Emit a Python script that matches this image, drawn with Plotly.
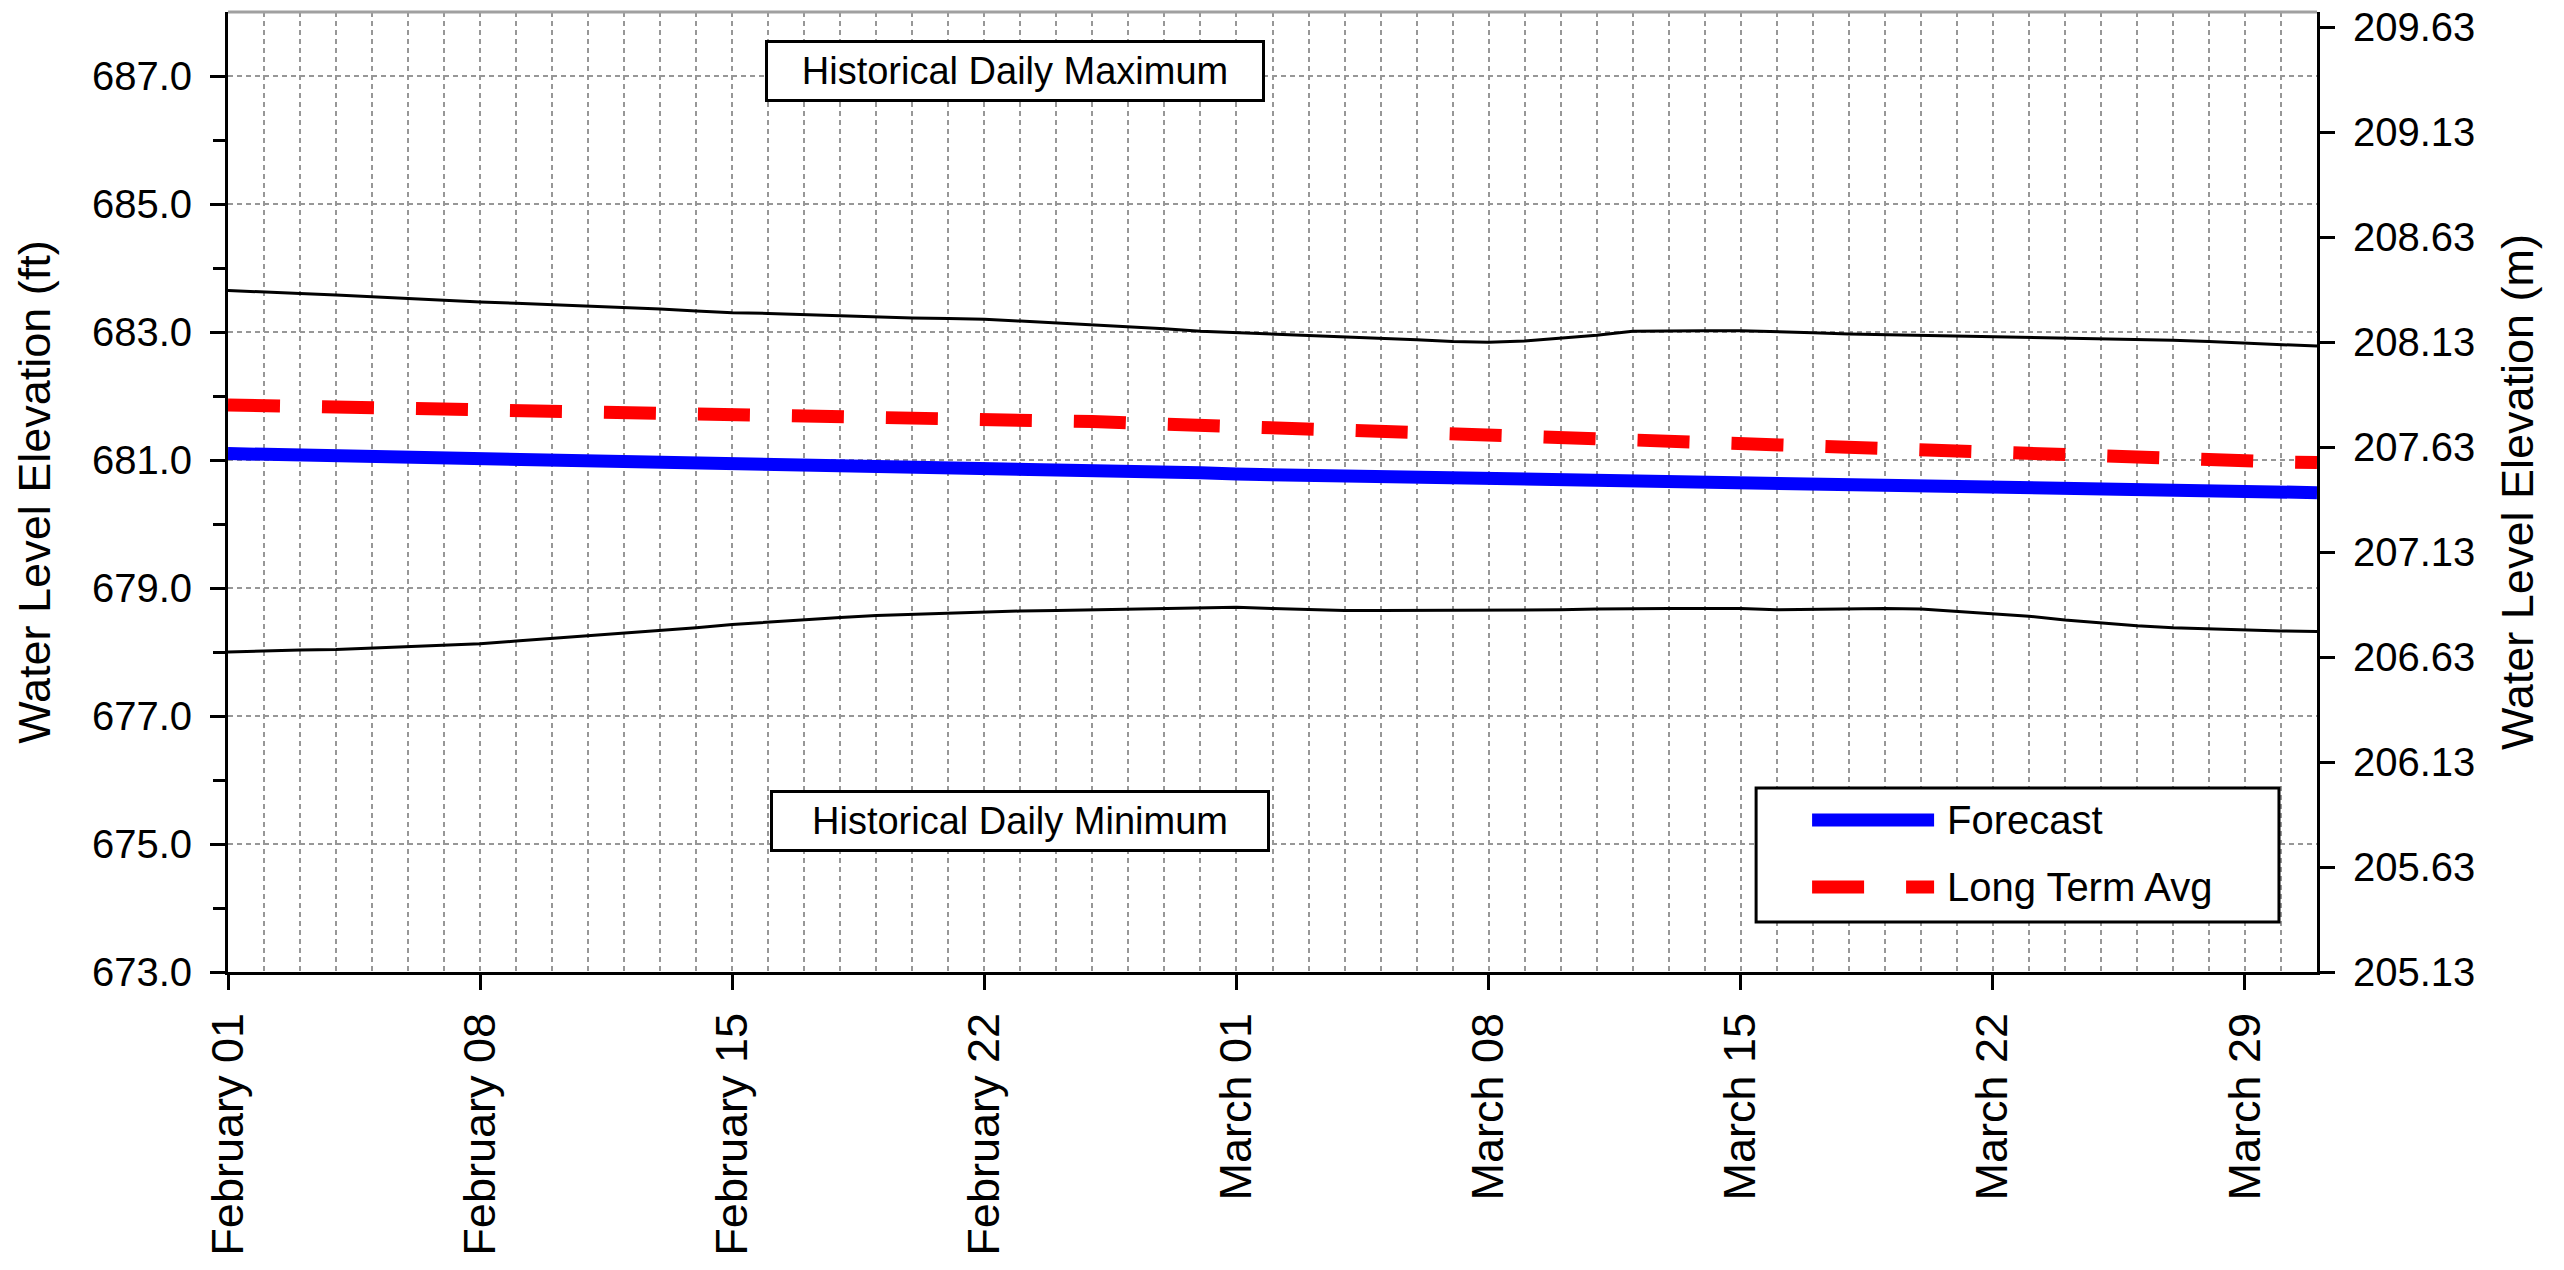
import plotly.graph_objects as go
import pandas as pd

# ---- data (Feb 01 .. Mar 31, daily) ----
dates = pd.date_range("2023-02-01", "2023-03-31", freq="D").strftime("%Y-%m-%d").tolist()

hist_max = [683.65, 683.62, 683.60, 683.58, 683.55, 683.52, 683.50,
            683.47, 683.45, 683.43, 683.41, 683.39, 683.36, 683.33,
            683.30, 683.29, 683.27, 683.25, 683.23, 683.22, 683.21,
            683.20, 683.17, 683.14, 683.12, 683.09, 683.05, 683.01,
            682.99, 682.97, 682.95, 682.93, 682.90, 682.88, 682.85,
            682.84, 682.86, 682.90, 682.95, 683.01, 683.02, 683.02,
            683.02, 683.01, 682.99, 682.97, 682.96, 682.95, 682.93,
            682.92, 682.91, 682.91, 682.90, 682.89, 682.87, 682.85,
            682.83, 682.81, 682.78]

hist_min = [678.00, 678.02, 678.03, 678.04, 678.06, 678.08, 678.10,
            678.13, 678.17, 678.21, 678.25, 678.29, 678.33, 678.38,
            678.43, 678.47, 678.51, 678.54, 678.57, 678.59, 678.61,
            678.63, 678.64, 678.65, 678.66, 678.67, 678.68, 678.69,
            678.70, 678.68, 678.66, 678.65, 678.65, 678.65, 678.65,
            678.65, 678.65, 678.66, 678.67, 678.68, 678.68, 678.68,
            678.68, 678.66, 678.67, 678.68, 678.68, 678.67, 678.63,
            678.60, 678.56, 678.50, 678.45, 678.41, 678.38, 678.36,
            678.35, 678.33, 678.32]

forecast = [681.10, 681.09, 681.06, 681.05, 681.05, 681.05, 681.04,
            681.02, 681.01, 681.01, 681.00, 681.00, 681.00, 680.99,
            680.98, 680.97, 680.96, 680.94, 680.93, 680.92, 680.90,
            680.89, 680.88, 680.86, 680.85, 680.84, 680.82, 680.80,
            680.78, 680.77, 680.76, 680.74, 680.73, 680.72, 680.71,
            680.69, 680.68, 680.68, 680.67, 680.66, 680.65, 680.64,
            680.63, 680.62, 680.61, 680.60, 680.60, 680.60, 680.59,
            680.58, 680.56, 680.55, 680.55, 680.55, 680.55, 680.54,
            680.52, 680.50, 680.49]

long_term_avg = [681.86, 681.85, 681.85, 681.84, 681.84, 681.83, 681.82,
                 681.81, 681.80, 681.79, 681.78, 681.77, 681.77, 681.76,
                 681.75, 681.74, 681.73, 681.72, 681.71, 681.70, 681.68,
                 681.66, 681.64, 681.62, 681.60, 681.58, 681.56, 681.54,
                 681.51, 681.48, 681.46, 681.44, 681.42, 681.40, 681.38,
                 681.36, 681.34, 681.32, 681.30, 681.28, 681.26, 681.24,
                 681.22, 681.20, 681.18, 681.16, 681.14, 681.12, 681.10,
                 681.08, 681.07, 681.05, 681.04, 681.02, 681.01, 681.00,
                 680.99, 680.97, 680.96]

ft_range = [673.0, 688.0]
ft_ticks = [673, 675, 677, 679, 681, 683, 685, 687]
ft_minor = [674, 676, 678, 680, 682, 684, 686]
m_ticks = [205.13, 205.63, 206.13, 206.63, 207.13, 207.63, 208.13, 208.63, 209.13, 209.63]
FT_TO_M = 0.3048

FONT = "Liberation Sans, Arial, sans-serif"
GRID = "#979797"
GDASH = "5px,4px"
RED_DASH = "52px,42px"

fig = go.Figure()
fig.add_trace(go.Scatter(x=dates, y=hist_max, mode="lines",
                         line=dict(color="black", width=3), showlegend=False, name="Historical Daily Maximum"))
fig.add_trace(go.Scatter(x=dates, y=hist_min, mode="lines",
                         line=dict(color="black", width=3), showlegend=False, name="Historical Daily Minimum"))
fig.add_trace(go.Scatter(x=dates, y=long_term_avg, mode="lines",
                         line=dict(color="#ff0000", width=13, dash=RED_DASH), showlegend=False, name="Long Term Avg"))
fig.add_trace(go.Scatter(x=dates, y=forecast, mode="lines",
                         line=dict(color="#0000ff", width=13), showlegend=False, name="Forecast"))
# metric axis companion (invisible)
fig.add_trace(go.Scatter(x=dates, y=[v * FT_TO_M for v in forecast], mode="lines", yaxis="y2",
                         line=dict(color="rgba(0,0,0,0)", width=0), showlegend=False, hoverinfo="skip"))

fig.update_layout(
    width=2564, height=1270,
    margin=dict(l=220, r=255, t=4, b=306, autoexpand=False),
    paper_bgcolor="white", plot_bgcolor="white",
    font=dict(family=FONT, color="black"),
    xaxis=dict(
        type="date", range=[dates[0], dates[-1]],
        tick0=dates[0], dtick=7 * 86400000, tickformat="%B %d", tickangle=-90,
        ticks="outside", ticklen=15, tickwidth=3, tickcolor="black", ticklabelstandoff=5,
        ticklabeloverflow="allow",
        tickfont=dict(size=45, family=FONT, color="black"),
        showline=True, linecolor="black", linewidth=3,
        showgrid=True, gridcolor=GRID, gridwidth=1.5, griddash=GDASH,
        minor=dict(dtick=86400000, showgrid=True, gridcolor=GRID, gridwidth=1.5, griddash=GDASH, ticks=""),
        zeroline=False, automargin=False,
    ),
    yaxis=dict(
        range=ft_range, tickvals=ft_ticks, tickformat=".1f",
        ticks="outside", ticklen=15, tickwidth=3, tickcolor="black", ticklabelstandoff=10,
        ticklabeloverflow="allow",
        tickfont=dict(size=40, family=FONT, color="black"),
        showline=True, linecolor="black", linewidth=3,
        showgrid=True, gridcolor=GRID, gridwidth=1.5, griddash=GDASH,
        minor=dict(tickvals=ft_minor, ticks="outside", ticklen=12,
                   tickwidth=3, tickcolor="black", showgrid=False),
        zeroline=False, automargin=False,
        title=dict(text="Water Level Elevation (ft)", font=dict(size=45, family=FONT, color="black"), standoff=28),
    ),
    yaxis2=dict(
        overlaying="y", side="right", anchor="x",
        range=[ft_range[0] * FT_TO_M, ft_range[1] * FT_TO_M],
        tickvals=m_ticks, ticktext=[f"{v:.2f}" for v in m_ticks],
        ticks="outside", ticklen=15, tickwidth=3, tickcolor="black", ticklabelstandoff=10,
        ticklabeloverflow="allow",
        tickfont=dict(size=40, family=FONT, color="black"),
        showline=True, linecolor="black", linewidth=3,
        showgrid=False, zeroline=False, automargin=False,
        title=dict(text="Water Level Elevation (m)", font=dict(size=45, family=FONT, color="black"), standoff=28),
    ),
)

shapes = [
    # top border (gray)
    dict(type="line", xref="paper", yref="paper", x0=0, x1=1, y0=1, y1=1,
         line=dict(color="#a0a0a0", width=3)),
    # legend box
    dict(type="rect", xref="paper", yref="paper", x0=0.7315, x1=0.9818, y0=0.0521, y1=0.1917,
         line=dict(color="black", width=3), fillcolor="white", layer="above"),
    dict(type="line", xref="paper", yref="paper", x0=0.7583, x1=0.8167, y0=0.1583, y1=0.1583,
         line=dict(color="#0000ff", width=13), layer="above"),
    dict(type="line", xref="paper", yref="paper", x0=0.7583, x1=0.8167, y0=0.0885, y1=0.0885,
         line=dict(color="#ff0000", width=13, dash=RED_DASH), layer="above"),
]
fig.update_layout(shapes=shapes)

annotations = [
    dict(text="Historical Daily Maximum", xref="paper", yref="paper", x=0.3767, y=0.9385,
         xanchor="center", yanchor="middle", showarrow=False,
         font=dict(size=38, family=FONT, color="black"),
         bordercolor="black", borderwidth=3, bgcolor="white", width=492, height=54),
    dict(text="Historical Daily Minimum", xref="paper", yref="paper", x=0.3790, y=0.1573,
         xanchor="center", yanchor="middle", showarrow=False,
         font=dict(size=38, family=FONT, color="black"),
         bordercolor="black", borderwidth=3, bgcolor="white", width=492, height=54),
    dict(text="Forecast", xref="paper", yref="paper", x=0.8219, y=0.1583,
         xanchor="left", yanchor="middle", showarrow=False,
         font=dict(size=40, family=FONT, color="black")),
    dict(text="Long Term Avg", xref="paper", yref="paper", x=0.8219, y=0.0885,
         xanchor="left", yanchor="middle", showarrow=False,
         font=dict(size=40, family=FONT, color="black")),
]
fig.update_layout(annotations=annotations)

fig.write_html("out.html")
